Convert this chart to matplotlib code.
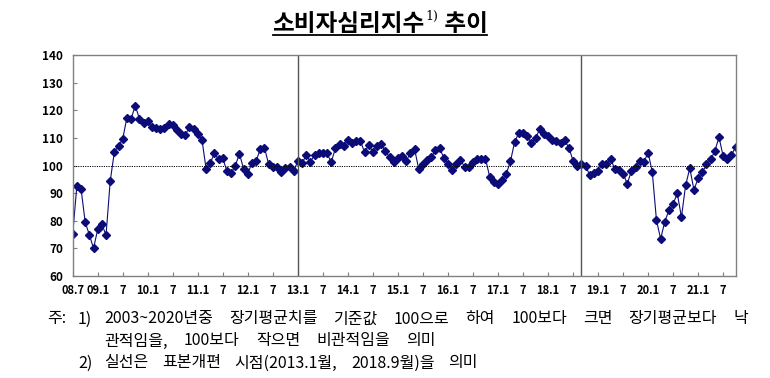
import matplotlib
matplotlib.use("Agg")
import matplotlib.pyplot as plt
from matplotlib.lines import Line2D
import numpy as np

plt.rcParams['font.family'] = ['Noto Sans CJK KR', 'DejaVu Sans']

# 소비자심리지수 (월별, 2008.7 ~ 2021.10)
v2008 = [75.1, 92.7, 91.6, 79.5, 74.9, 70.0]  # 7~12월
v2009 = [76.9, 78.7, 74.8, 94.4, 105.0, 107.2, 109.6, 117.4, 116.9, 121.7, 117.0, 115.6]
v2010 = [116.1, 113.8, 113.5, 113.3, 113.5, 114.9, 114.7, 112.8, 111.5, 111.0, 114.1, 113.2]
v2011 = [111.5, 109.4, 98.8, 101.0, 104.4, 102.2, 102.6, 98.0, 97.2, 100.0, 104.3, 98.7]
v2012 = [97.0, 101.1, 101.7, 106.0, 106.4, 100.5, 99.4, 99.6, 97.8, 99.2, 99.3, 98.1]
v2013 = [101.6, 100.8, 103.8, 101.4, 103.8, 104.4, 104.4, 104.4, 101.2, 106.2, 107.7, 107.0]
v2014 = [109.4, 108.3, 109.0, 109.0, 104.8, 107.4, 104.9, 107.1, 107.7, 105.2, 103.0, 101.4]
v2015 = [102.9, 103.4, 101.7, 104.6, 105.9, 98.7, 100.5, 101.9, 103.0, 105.5, 106.2, 102.9]
v2016 = [100.5, 98.3, 100.6, 102.0, 99.5, 99.3, 101.4, 102.3, 102.3, 102.5, 96.0, 94.2]
v2017 = [93.4, 94.6, 97.1, 101.6, 108.6, 111.8, 111.8, 110.6, 108.2, 110.0, 113.1, 111.5]
v2018 = [110.8, 109.2, 109.0, 108.0, 109.1, 106.5, 101.8, 99.8, 100.5, 99.9, 96.5, 97.4]
v2019 = [98.2, 100.4, 100.4, 102.4, 98.8, 98.4, 97.1, 93.4, 98.0, 99.5, 101.7, 101.3]
v2020 = [104.7, 97.7, 80.3, 73.4, 79.7, 83.8, 86.1, 89.9, 81.3, 92.9, 99.0, 91.2]
v2021 = [95.4, 97.5, 100.4, 102.2, 105.2, 110.3, 103.4, 102.5, 103.8, 106.8]  # 1~10월

ccsi = (v2008 + v2009 + v2010 + v2011 + v2012 + v2013 + v2014 + v2015
        + v2016 + v2017 + v2018 + v2019 + v2020 + v2021)

# 월 라벨 (yy.m)
months = []
for y in range(2008, 2022):
    for m in range(1, 13):
        if (y == 2008 and m < 7) or (y == 2021 and m > 10):
            continue
        months.append((y, m))

breaks = [(2013, 1), (2018, 9)]  # 표본개편 시점

title_main = "소비자심리지수"
title_sup = "1)"
title_tail = " 추이"
note1 = "2003~2020년중 장기평균치를 기준값 100으로 하여 100보다 크면 장기평균보다 낙"
note1b = "관적임을, 100보다 작으면 비관적임을 의미"
note2 = "실선은 표본개편 시점(2013.1월, 2018.9월)을 의미"

x = np.arange(len(ccsi))

fig = plt.figure(figsize=(7.7, 3.78), dpi=100)
ax = fig.add_axes([0.0944, 0.270, 0.861, 0.584])

navy = "#0c0c78"
ax.plot(x, ccsi, color=navy, lw=0.8, marker="D", markersize=3.6,
        markerfacecolor=navy, markeredgecolor=navy)
ax.axhline(100, color="black", lw=0.7, ls=(0, (1.2, 1.2)))
for b in breaks:
    ax.axvline(months.index(b), color="#555555", lw=1.0)

ax.set_xlim(0, len(ccsi) - 1)
ax.set_ylim(60, 140)
ax.set_yticks(np.arange(60, 141, 10))

ticks, labels = [], []
for i, (y, m) in enumerate(months):
    if i == 0 or m == 1:
        ticks.append(i); labels.append("%02d.%d" % (y % 100, m))
    elif m == 7:
        ticks.append(i); labels.append("7")
ax.set_xticks(ticks)
ax.set_xticklabels(labels)

ax.tick_params(axis="both", direction="in", length=3, width=0.8, color="#808080",
               labelsize=8)
ax.tick_params(axis="y", labelsize=8.5, pad=7)
ax.tick_params(axis="x", pad=6)
for lab in ax.get_xticklabels() + ax.get_yticklabels():
    lab.set_fontweight("bold")
for s in ax.spines.values():
    s.set_color("#808080")
    s.set_linewidth(1.0)

fig.canvas.draw()
r = fig.canvas.get_renderer()

def px(v):
    return v / 770

def width(t):
    e = t.get_window_extent(r)
    return e.x1 - e.x0

# 제목 (밑줄 포함)
ty = 1 - 31 / 378
t1 = fig.text(0, ty, title_main, fontsize=17, fontweight="bold", va="baseline")
t2 = fig.text(0, ty + 0.03, title_sup, fontsize=9, family="DejaVu Serif", va="baseline")
t3 = fig.text(0, ty, title_tail, fontsize=17, fontweight="bold", va="baseline")
w1, w2, w3 = width(t1), width(t2), width(t3)
x0 = 380 - (w1 + w2 + w3 + 1) / 2
t1.set_x(px(x0))
t2.set_x(px(x0 + w1 + 1))
t3.set_x(px(x0 + w1 + 1 + w2))
uy = 1 - 35 / 378
fig.add_artist(Line2D([px(x0), px(x0 + w1 + w2 + w3 + 1)], [uy, uy],
                      transform=fig.transFigure, color="black", lw=1.3))

# 주석 (양쪽 정렬처럼 단어 간격을 넓게)
fs = 11.5

def justify(text, xs, xe, ypix, size=fs):
    words = text.split(" ")
    ts = [fig.text(0, 1 - ypix / 378, w, fontsize=size, va="center") for w in words]
    ws = [width(t) for t in ts]
    gap = (xe - xs - sum(ws)) / (len(ws) - 1)
    cur = xs
    for t, w in zip(ts, ws):
        t.set_x(px(cur))
        cur += w + gap

fig.text(px(47), 1 - 319 / 378, "주:", fontsize=fs, va="center")
fig.text(px(78), 1 - 319 / 378, "1)", fontsize=fs, va="center")
justify(note1, 104, 748, 319)
justify(note1b, 104, 436, 341)
fig.text(px(78), 1 - 363 / 378, "2)", fontsize=fs, va="center")
justify(note2, 104, 478, 363)

fig.savefig("out.png", dpi=100)
